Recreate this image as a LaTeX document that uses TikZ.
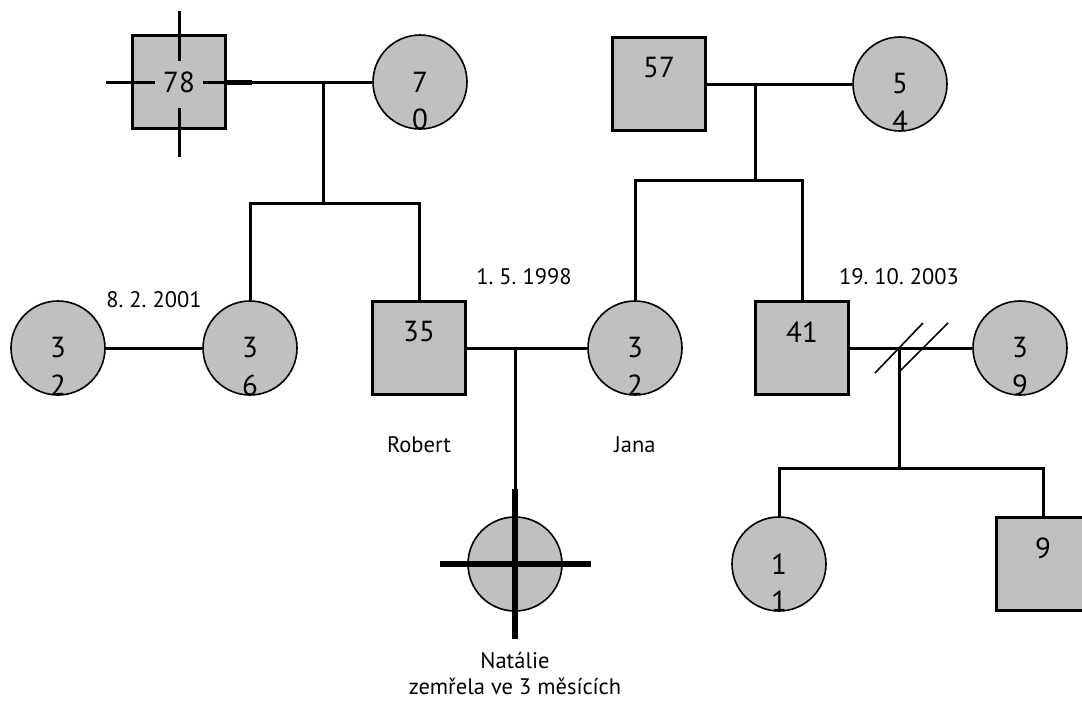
\documentclass[tikz,border=0pt]{standalone}
\usepackage{fontspec}
\setmainfont{PT Sans}
\usepackage{tikz}
\usetikzlibrary{calc, positioning}
\definecolor{pgray}{RGB}{192,192,192}
\tikzstyle{male}=[draw, shape=rectangle, fill=pgray, line width=3pt, minimum size=93pt, inner sep=0pt]
\tikzstyle{female}=[draw, shape=circle, fill=pgray, line width=1.6pt, minimum size=94pt, inner sep=0pt]
\tikzstyle{num}=[font=\fontsize{29}{29}\selectfont, inner sep=0pt]
\tikzstyle{txt}=[font=\fontsize{22.5}{26}\selectfont, inner sep=0pt, align=center]
\tikzstyle{rel}=[line width=3pt]
\frenchspacing

\begin{document}
\begin{tikzpicture}[x=1pt, y=-1pt]
\useasboundingbox (0,0) rectangle (1082,702);
% the grandparents
\node[male, label={[num]center:78}] (GF) at (179,82) {};
\node[female, label={[num]center:7}, label={[num, yshift=-37pt]center:0}] (GM) at (420,82) {};
\node[male, label={[num, yshift=16pt]center:57}] (HF) at (659,84) {};
\node[female, label={[num]center:5}, label={[num, yshift=-37pt]center:4}] (HM) at (900,84) {};
% the parents
\node[female, label={[num]center:3}, label={[num, yshift=-37pt]center:2}] (P) at (58,348) {};
\node[female, label={[num]center:3}, label={[num, yshift=-37pt]center:6}] (A) at (250,348) {};
\node[male, label={[num, yshift=16pt]center:35}] (R) at (419,348) {};
\node[female, label={[num]center:3}, label={[num, yshift=-37pt]center:2}] (J) at (635,348) {};
\node[male, label={[num, yshift=16pt]center:41}] (B) at (802,348) {};
\node[female, label={[num]center:3}, label={[num, yshift=-37pt]center:9}] (W) at (1020,348) {};
% the children
\node[female] (N) at (515,564) {};
\node[female, label={[num]center:1}, label={[num, yshift=-37pt]center:1}] (C1) at (779,564) {};
\node[male, label={[num, yshift=16pt]center:9}] (C2) at (1043,564) {};
% the texts
\node[txt] (d1) at (154,300) {8. 2. 2001};
\node[txt] (d2) at (524,277) {1. 5. 1998};
\node[txt] (d3) at (899,277) {19. 10. 2003};
\node[txt] (nR) at (419,445) {Robert};
\node[txt] (nJ) at (635,445) {Jana};
\node[txt, below=40pt of N] (nN) {Natálie\\zemřela ve 3 měsících};
% the marriages
\coordinate (m1) at (323,82);
\coordinate (s1) at (323,203);
\coordinate (m2) at (755,84);
\coordinate (s2) at (755,180);
\coordinate (m3) at (515,348);
\coordinate (m4) at (899,348);
\coordinate (s4) at (899,468);
\draw[rel] (GF) -- (GM);
\draw[rel] (HF) -- (HM);
\draw[rel] (P) -- (A);
\draw[rel] (R) -- (J);
\draw[rel] (B) -- (W);
% the descents
\draw[rel] (m1) -- (s1);
\draw[rel] (A.north) |- (s1) -| (R.north);
\draw[rel] (m2) -- (s2);
\draw[rel] (J.north) |- (s2) -| (B.north);
\draw[rel] (m3) -- (N);
\draw[rel] (m4) -- (s4);
\draw[rel] (C1.north) |- (s4) -| (C2.north);
% the divorce
\draw[line width=1.6pt] ($(m4)+(-24,25)$) -- ($(m4)+(24,-25)$);
\draw[line width=1.6pt] ($(m4)+(1,23)$) -- ($(m4)+(49,-25)$);
% the deceased
\draw[line width=5pt] (GF.east) -- ++(25,0);
\draw[rel] ($(GF)+(0,-71)$) -- ($(GF)+(0,-21)$);
\draw[rel] ($(GF)+(0,26)$) -- ($(GF)+(0,75)$);
\draw[rel] ($(GF)+(-73,0)$) -- ($(GF)+(-24,0)$);
\draw[rel] ($(GF)+(24,0)$) -- ($(GF)+(48,0)$);
\draw[line width=6pt] ($(N)+(0,-75)$) -- ($(N)+(0,75)$);
\draw[line width=6pt] ($(N)+(-75,0)$) -- ($(N)+(76,0)$);
\end{tikzpicture}
\end{document}
